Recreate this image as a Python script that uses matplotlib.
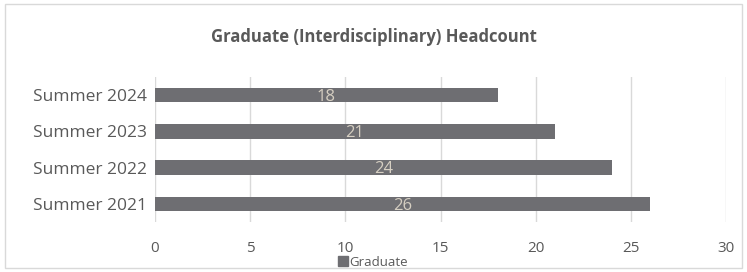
import matplotlib.pyplot as plt
from matplotlib.patches import Rectangle
from matplotlib.lines import Line2D

categories = ['Summer 2021', 'Summer 2022', 'Summer 2023', 'Summer 2024']
headcount = [26, 24, 21, 18]
xticks = [0, 5, 10, 15, 20, 25, 30]

plt.rcParams['font.family'] = ['Liberation Sans Narrow', 'Open Sans', 'DejaVu Sans']

bar_color = '#6e6e72'
grid_color = '#d9d9d9'
text_color = '#595959'

fig = plt.figure(figsize=(7.47, 2.72), dpi=100)
# axes placed in pixel terms: x 155..726, y 77..222 (from top)
ax = fig.add_axes([155 / 747, 1 - 222 / 272, (726 - 155) / 747, (222 - 77) / 272])

bars = ax.barh(range(len(categories)), headcount, height=0.4, color=bar_color, zorder=3)
ax.set_ylim(-0.5, len(categories) - 0.5)
ax.set_xlim(0, 30)
ax.set_xticks(xticks)
ax.set_yticks(range(len(categories)))
ax.set_yticklabels(categories, fontsize=12.5, color=text_color)
ax.set_xticklabels([str(t) for t in xticks], fontsize=11, color=text_color)
ax.tick_params(axis='both', length=0)
ax.tick_params(axis='x', pad=14)
ax.tick_params(axis='y', pad=6)
ax.grid(axis='x', color=grid_color, linewidth=1, zorder=0)
for s in ax.spines.values():
    s.set_visible(False)

# data labels centred in bars
for i, v in enumerate(headcount):
    ax.text(v / 2, i - 0.05, str(v), ha='center', va='center', fontsize=12,
            color='#d6cfc2', zorder=4)

fig.text(0.5, 1 - 37 / 272, 'Graduate (Interdisciplinary) Headcount', ha='center',
         va='center', fontsize=12, fontweight='bold', color=text_color)

handle = Line2D([], [], marker='s', linestyle='none', color=bar_color, markersize=7)
fig.legend([handle], ['Graduate'], loc='center', bbox_to_anchor=(373 / 747, 1 - 262 / 272),
           frameon=False, fontsize=9.5, handletextpad=0.1, labelcolor=text_color,
           borderpad=0, handlelength=0.8)

# outer chart border
fig.patches.append(Rectangle((5 / 747, 4 / 272), 737 / 747, 264 / 272, transform=fig.transFigure,
                             fill=False, edgecolor='#d9d9d9', linewidth=1))

fig.savefig('out.png', dpi=100)
